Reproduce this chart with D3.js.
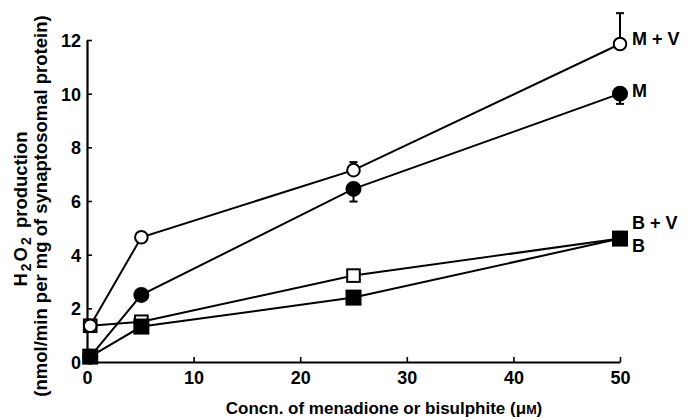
<!DOCTYPE html>
<html>
<head>
<meta charset="utf-8">
<script src="https://cdn.jsdelivr.net/npm/d3@7"></script>
<style>
  html, body { margin: 0; padding: 0; background: #fff; }
  svg { display: block; font-family: "Liberation Sans", Arial, Helvetica, sans-serif; font-weight: bold; }
</style>
</head>
<body>
<svg id="chart" width="688" height="420"></svg>
<script>
// ---- Data ----
const concentrations = [0.3, 5.1, 25, 50];           // µM
const seriesNames = ["M + V", "M", "B + V", "B"];
const valuesMV = [1.35, 4.65, 7.15, 11.85];
const valuesM  = [0.2, 2.5, 6.45, 10.0];
const valuesBV = [1.35, 1.5, 3.22, 4.6];
const valuesB  = [0.2, 1.32, 2.4, 4.6];
// error bars: [x, y, yEnd]
const errorsMV = [[25, 7.15, 7.45], [50, 11.85, 13.0]];
const errorsM  = [[25, 6.45, 5.98], [50, 10.0, 9.62]];
const xTicks = [0, 10, 20, 30, 40, 50];
const yTicks = [0, 2, 4, 6, 8, 10, 12];

const series = [
  { name: seriesNames[0], values: valuesMV, shape: "circle", filled: false, errors: errorsMV },
  { name: seriesNames[1], values: valuesM,  shape: "circle", filled: true,  errors: errorsM },
  { name: seriesNames[2], values: valuesBV, shape: "square", filled: false, errors: [] },
  { name: seriesNames[3], values: valuesB,  shape: "square", filled: true,  errors: [] }
];

const svg = d3.select("#chart");
const x = d3.scaleLinear().domain([0, 50]).range([87, 620]);
const y = d3.scaleLinear().domain([0, 12]).range([362, 40]);

// axes
const xAxis = d3.axisBottom(x).tickValues(xTicks).tickSizeInner(-5).tickSizeOuter(0).tickPadding(9);
const yAxis = d3.axisLeft(y).tickValues(yTicks).tickSizeInner(-5).tickSizeOuter(0).tickPadding(6);

const gx = svg.append("g").attr("transform", `translate(0,${y(0)})`).call(xAxis);
const gy = svg.append("g").attr("transform", `translate(${x(0)},0)`).call(yAxis);
[gx, gy].forEach(g => {
  g.select(".domain").attr("stroke", "#000").attr("stroke-width", 2.2);
  g.selectAll(".tick line").attr("stroke", "#000").attr("stroke-width", 1.6);
  g.selectAll(".tick text").attr("fill", "#000").attr("font-size", 18)
    .attr("font-family", "'Liberation Sans', Arial, sans-serif").attr("font-weight", "bold");
});
gy.selectAll(".tick text").attr("dy", "0.36em");

// lines
const line = d3.line().x((d, i) => x(concentrations[i])).y(d => y(d));
series.forEach(s => {
  svg.append("path").datum(s.values).attr("d", line)
    .attr("fill", "none").attr("stroke", "#000").attr("stroke-width", 2);
});

// error bars
series.forEach(s => {
  s.errors.forEach(e => {
    svg.append("line").attr("x1", x(e[0])).attr("x2", x(e[0]))
      .attr("y1", y(e[1])).attr("y2", y(e[2])).attr("stroke", "#000").attr("stroke-width", 2);
    svg.append("line").attr("x1", x(e[0]) - 4).attr("x2", x(e[0]) + 4)
      .attr("y1", y(e[2])).attr("y2", y(e[2])).attr("stroke", "#000").attr("stroke-width", 2);
  });
});

// markers
const drawOrder = [series[2], series[3], series[0], series[1]];
drawOrder.forEach(s => {
  s.values.forEach((v, i) => {
    const cx = x(concentrations[i]), cy = y(v);
    if (s.shape === "circle") {
      svg.append("circle").attr("cx", cx).attr("cy", cy).attr("r", s.filled ? 7 : 6.3)
        .attr("fill", s.filled ? "#000" : "#fff").attr("stroke", "#000").attr("stroke-width", 2);
    } else {
      const h = s.filled ? 7 : 6.3;
      svg.append("rect").attr("x", cx - h).attr("y", cy - h).attr("width", 2 * h).attr("height", 2 * h)
        .attr("fill", s.filled ? "#000" : "#fff").attr("stroke", "#000").attr("stroke-width", 2);
    }
  });
});

// series labels
const labelPos = [[632, 45], [632, 97], [632, 229], [632, 252]];
series.forEach((s, i) => {
  svg.append("text").attr("x", labelPos[i][0]).attr("y", labelPos[i][1])
    .attr("font-size", 18).attr("fill", "#000").text(s.name);
});

// x axis title
const xt = svg.append("text").attr("x", 384).attr("y", 414).attr("text-anchor", "middle")
  .attr("font-size", 17).attr("fill", "#000");
xt.append("tspan").text("Concn. of menadione or bisulphite (\u03bc");
xt.append("tspan").attr("font-size", 12.5).text("M");
xt.append("tspan").text(")");

// y axis title
const yt = svg.append("g").attr("transform", "translate(0,206) rotate(-90)");
const l1 = yt.append("text").attr("x", -3).attr("y", 27).attr("text-anchor", "middle")
  .attr("font-size", 18.5).attr("fill", "#000");
l1.append("tspan").text("H");
l1.append("tspan").attr("font-size", 14).attr("dx", 2).attr("dy", 4).text("2");
l1.append("tspan").attr("dx", 2).attr("dy", -4).text("O");
l1.append("tspan").attr("font-size", 14).attr("dx", 2).attr("dy", 4).text("2");
l1.append("tspan").attr("dx", 4).attr("dy", -4).text(" production");
yt.append("text").attr("x", 0).attr("y", 47).attr("text-anchor", "middle")
  .attr("font-size", 18.5).attr("fill", "#000")
  .text("(nmol/min per mg of synaptosomal protein)");
</script>
</body>
</html>
